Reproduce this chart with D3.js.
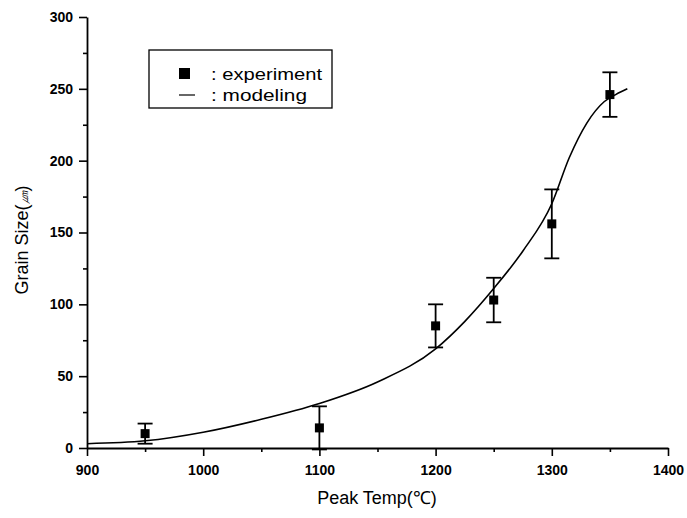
<!DOCTYPE html>
<html>
<head>
<meta charset="utf-8">
<script src="https://cdn.jsdelivr.net/npm/d3@7"></script>
<style>
  body { margin: 0; background: #fff; }
  text { font-family: Arial, "Liberation Sans", sans-serif; fill: #000; }
</style>
</head>
<body>
<script>
// experiment points (with error bars)
var expTemp = [950, 1100, 1200, 1250, 1300, 1350];
var expSize = [10, 14, 85, 103, 156, 246];
var expErr = [7, 15, 15, 15.5, 24, 15.5];

// modeling curve
var modelTemp = [900, 950, 1000, 1050, 1100, 1150, 1200, 1225, 1250, 1275, 1300, 1315, 1330, 1345, 1355, 1365];
var modelSize = [3, 5, 11, 20, 31, 46, 69, 88, 111, 137, 170, 202, 226, 241, 246, 250];

var xTicks = [900, 1000, 1100, 1200, 1300, 1400];
var xMinor = [950, 1050, 1150, 1250, 1350];
var yTicks = [0, 50, 100, 150, 200, 250, 300];
var yMinor = [25, 75, 125, 175, 225, 275];

var svg = d3.select("body").append("svg")
   .attr("width", 687)
   .attr("height", 518);

var x = d3.scaleLinear().domain([900, 1400]).range([87, 668]);
var y = d3.scaleLinear().domain([0, 300]).range([448, 17]);

function styleAxis(g) {
  g.selectAll("path").attr("stroke", "#000").attr("stroke-width", 1.8);
  g.selectAll("line").attr("stroke", "#000").attr("stroke-width", 1.6);
  g.selectAll("text")
    .style("font-family", "Arial, 'Liberation Sans', sans-serif")
    .style("font-weight", "bold")
    .style("font-size", "14px")
    .attr("fill", "#000");
}

// minor ticks first
svg.append("g")
  .attr("transform", "translate(0," + y(0) + ")")
  .call(d3.axisBottom(x).tickValues(xMinor).tickSize(4).tickFormat(""))
  .call(function(g) { g.select(".domain").remove(); })
  .call(styleAxis);

svg.append("g")
  .attr("transform", "translate(" + x(900) + ",0)")
  .call(d3.axisLeft(y).tickValues(yMinor).tickSize(4).tickFormat(""))
  .call(function(g) { g.select(".domain").remove(); })
  .call(styleAxis);

var xAxis = svg.append("g")
  .attr("transform", "translate(0," + y(0) + ")")
  .call(d3.axisBottom(x).tickValues(xTicks).tickSize(8).tickSizeOuter(0).tickPadding(9).tickFormat(d3.format("d")))
  .call(styleAxis);

var yAxis = svg.append("g")
  .attr("transform", "translate(" + x(900) + ",0)")
  .call(d3.axisLeft(y).tickValues(yTicks).tickSize(8).tickSizeOuter(0).tickPadding(6).tickFormat(d3.format("d")))
  .call(styleAxis);

// axis titles
svg.append("text")
  .attr("x", 377)
  .attr("y", 504)
  .attr("text-anchor", "middle")
  .style("font-size", "18px")
  .text("Peak Temp(\u2103)");

var yt = svg.append("text")
  .attr("transform", "translate(28,240) rotate(-90)")
  .attr("text-anchor", "middle")
  .style("font-size", "18px");
yt.append("tspan").text("Grain Size(");
yt.append("tspan").style("font-size", "13px").style("font-style", "italic").text("\u339B");
yt.append("tspan").text(")");

// modeling curve
var line = d3.line()
  .x(function(d, i) { return x(modelTemp[i]); })
  .y(function(d) { return y(d); })
  .curve(d3.curveMonotoneX);

svg.append("path")
  .datum(modelSize)
  .attr("d", line)
  .attr("fill", "none")
  .attr("stroke", "#000")
  .attr("stroke-width", 1.6);

// error bars
var bars = svg.selectAll("g.err")
  .data(expTemp)
  .enter()
  .append("g")
  .attr("class", "err");

bars.append("line")
  .attr("x1", function(d) { return x(d); })
  .attr("x2", function(d) { return x(d); })
  .attr("y1", function(d, i) { return y(expSize[i] + expErr[i]); })
  .attr("y2", function(d, i) { return y(expSize[i] - expErr[i]); })
  .attr("stroke", "#000")
  .attr("stroke-width", 1.8);

[1, -1].forEach(function(s) {
  bars.append("line")
    .attr("x1", function(d) { return x(d) - 7.5; })
    .attr("x2", function(d) { return x(d) + 7.5; })
    .attr("y1", function(d, i) { return y(expSize[i] + s * expErr[i]); })
    .attr("y2", function(d, i) { return y(expSize[i] + s * expErr[i]); })
    .attr("stroke", "#000")
    .attr("stroke-width", 1.8);
});

bars.append("rect")
  .attr("x", function(d) { return x(d) - 4.5; })
  .attr("y", function(d, i) { return y(expSize[i]) - 4.5; })
  .attr("width", 9)
  .attr("height", 9)
  .attr("fill", "#000");

// legend
var leg = svg.append("g");
leg.append("rect")
  .attr("x", 149).attr("y", 50)
  .attr("width", 183).attr("height", 58)
  .attr("fill", "#fff")
  .attr("stroke", "#000")
  .attr("stroke-width", 1.3);
leg.append("rect")
  .attr("x", 179).attr("y", 68)
  .attr("width", 11).attr("height", 11)
  .attr("fill", "#000");
leg.append("text")
  .attr("x", 211).attr("y", 80)
  .attr("textLength", 111)
  .attr("lengthAdjust", "spacingAndGlyphs")
  .style("font-size", "17px")
  .text(": experiment");
leg.append("line")
  .attr("x1", 179).attr("x2", 195)
  .attr("y1", 95).attr("y2", 95)
  .attr("stroke", "#000")
  .attr("stroke-width", 1.2);
leg.append("text")
  .attr("x", 211).attr("y", 101)
  .attr("textLength", 96)
  .attr("lengthAdjust", "spacingAndGlyphs")
  .style("font-size", "17px")
  .text(": modeling");
</script>
</body>
</html>
